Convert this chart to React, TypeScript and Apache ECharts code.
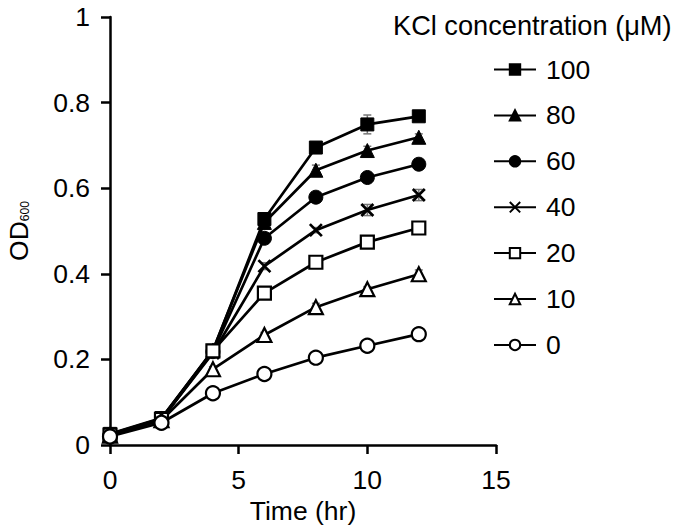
import React, { useEffect, useRef } from "react";
import * as echarts from "echarts";

const timeHr = [0, 2, 4, 6, 8, 10, 12];
const concentrations = ["100", "80", "60", "40", "20", "10", "0"];

const od100 = [0.026, 0.063, 0.22, 0.528, 0.695, 0.749, 0.768];
const od80 = [0.025, 0.062, 0.222, 0.52, 0.642, 0.688, 0.719];
const od60 = [0.024, 0.06, 0.218, 0.483, 0.579, 0.625, 0.656];
const od40 = [0.024, 0.06, 0.215, 0.418, 0.502, 0.549, 0.584];
const od20 = [0.023, 0.06, 0.22, 0.355, 0.427, 0.474, 0.507];
const od10 = [0.022, 0.058, 0.177, 0.257, 0.322, 0.364, 0.399];
const od0 = [0.02, 0.052, 0.121, 0.166, 0.204, 0.232, 0.259];

const err100 = [0.005, 0.005, 0.01, 0.014, 0.012, 0.022, 0.008];
const err80 = [0.005, 0.005, 0.008, 0.01, 0.012, 0.01, 0.008];
const err60 = [0.004, 0.004, 0.008, 0.01, 0.006, 0.006, 0.006];
const err40 = [0.004, 0.004, 0.008, 0.008, 0.006, 0.013, 0.013];
const err20 = [0.003, 0.003, 0.006, 0.008, 0.008, 0.006, 0.006];
const err10 = [0.003, 0.003, 0.006, 0.006, 0.009, 0.006, 0.01];
const err0 = [0.003, 0.003, 0.005, 0.005, 0.005, 0.006, 0.015];

const xTicks = [0, 5, 10, 15];
const yTicks = [0, 0.2, 0.4, 0.6, 0.8, 1];

const FONT = "Liberation Sans, Arial, sans-serif";
const FS = 26.5;

const values = [od100, od80, od60, od40, od20, od10, od0];
const errors = [err100, err80, err60, err40, err20, err10, err0];
const symbols = [
  "rect",
  "triangle",
  "circle",
  "path://M0,0L10,10M10,0L0,10",
  "rect",
  "triangle",
  "circle",
];
const filled = [true, true, true, true, false, false, false];
const sizes = [13, 14, 14, 12, 13, 14, 14];

export default function App() {
  const ref = useRef<HTMLDivElement>(null);
  useEffect(() => {
    if (!ref.current) return;
    const chart = echarts.init(ref.current, undefined, { renderer: "svg" });

    const lineSeries: any[] = concentrations.map((name, i) => ({
      name,
      type: "line",
      data: timeHr.map((t, j) => [t, values[i][j]]),
      symbol: symbols[i],
      symbolSize: sizes[i],
      symbolKeepAspect: true,
      clip: false,
      z: 3,
      lineStyle: { color: "#000", width: 2.7 },
      itemStyle: {
        color: i === 3 ? "#000" : filled[i] ? "#000" : "#fff",
        borderColor: "#000",
        borderWidth: i === 3 ? 2.7 : filled[i] ? 1 : 2.2,
      },
    }));

    const errSeries: any[] = concentrations.map((name, i) => ({
      name: "err" + name,
      type: "custom",
      z: 2,
      data: timeHr.map((t, j) => [t, values[i][j], errors[i][j]]),
      renderItem: (params: any, api: any) => {
        const x = api.value(0);
        const y = api.value(1);
        const e = api.value(2);
        const top = api.coord([x, y + e]);
        const bot = api.coord([x, y - e]);
        const cw = 4;
        const style = { stroke: "#777", lineWidth: 1.5 };
        return {
          type: "group",
          children: [
            { type: "line", shape: { x1: top[0], y1: top[1], x2: bot[0], y2: bot[1] }, style },
            { type: "line", shape: { x1: top[0] - cw, y1: top[1], x2: top[0] + cw, y2: top[1] }, style },
            { type: "line", shape: { x1: bot[0] - cw, y1: bot[1], x2: bot[0] + cw, y2: bot[1] }, style },
          ],
        };
      },
      clip: false,
      silent: true,
    }));

    chart.setOption({
      animation: false,
      backgroundColor: "#fff",
      textStyle: { fontFamily: FONT, color: "#000" },
      title: {
        text: "KCl concentration (μM)",
        left: 393,
        top: 12,
        padding: 0,
        textStyle: { fontFamily: FONT, fontSize: 27.2, fontWeight: "normal", color: "#000" },
      },
      legend: {
        orient: "vertical",
        left: 493,
        top: 56,
        padding: 0,
        itemWidth: 42,
        itemHeight: 13,
        itemGap: 18.9,
        data: concentrations,
        textStyle: { fontFamily: FONT, fontSize: FS, color: "#000", lineHeight: 26, padding: [0, 0, 0, 5] },
      },
      grid: { left: 110, right: 179, top: 17, bottom: 84, containLabel: false, outerBoundsMode: "none" },
      xAxis: {
        type: "value",
        min: xTicks[0],
        max: xTicks[xTicks.length - 1],
        interval: xTicks[1] - xTicks[0],
        splitLine: { show: false },
        axisLine: { lineStyle: { color: "#000", width: 2.5 } },
        axisTick: { inside: false, length: 9, lineStyle: { color: "#000", width: 2.5 } },
        axisLabel: { fontFamily: FONT, fontSize: FS, color: "#000", margin: 21 },
        name: "Time (hr)",
        nameLocation: "middle",
        nameGap: 52,
        nameTextStyle: { fontFamily: FONT, fontSize: FS, color: "#000" },
      },
      yAxis: {
        type: "value",
        min: yTicks[0],
        max: yTicks[yTicks.length - 1],
        interval: yTicks[1] - yTicks[0],
        splitLine: { show: false },
        axisLine: { show: true, lineStyle: { color: "#000", width: 2.5 } },
        axisTick: { show: true, inside: false, length: 9, lineStyle: { color: "#000", width: 2.5 } },
        axisLabel: { fontFamily: FONT, fontSize: FS, color: "#000", margin: 20 },
        name: "{a|OD}{b|600}",
        nameLocation: "middle",
        nameRotate: 90,
        nameGap: 79,
        nameTextStyle: {
          fontFamily: FONT,
          color: "#000",
          rich: {
            a: { fontFamily: FONT, fontSize: FS, lineHeight: 26, verticalAlign: "top", color: "#000" },
            b: { fontFamily: FONT, fontSize: 12, lineHeight: 12, verticalAlign: "bottom", padding: [21, 0, 0, 0], color: "#000" },
          },
        },
      },
      series: [...lineSeries, ...errSeries],
    });
    return () => chart.dispose();
  }, []);
  return (
    <div
      ref={ref}
      style={{ position: "fixed", left: 0, top: 0, width: 675, height: 529, background: "#fff" }}
    />
  );
}
